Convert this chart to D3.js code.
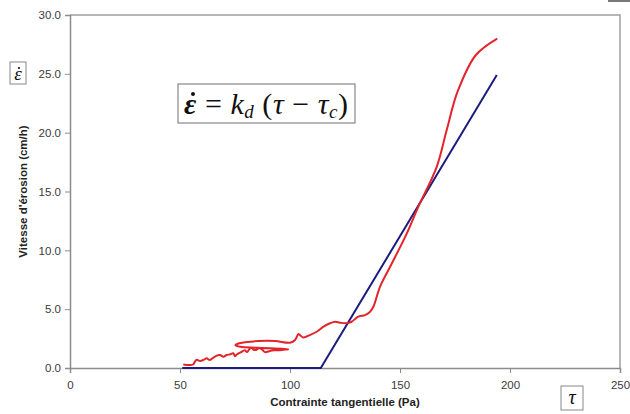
<!DOCTYPE html>
<html>
<head>
<meta charset="utf-8">
<script src="https://cdn.jsdelivr.net/npm/d3@7"></script>
<style>
  body { margin: 0; background: #fff; }
  #chart { width: 630px; height: 414px; }
  text { font-family: "Liberation Sans", Arial, sans-serif; }
</style>
</head>
<body>
<div id="chart"></div>
<script>
var redTau = [51.5, 54, 56, 56.8, 57.6, 59.1, 60.6, 62.1, 63.6, 65.2, 66.7, 68.2, 69.7, 71.2, 72.7, 74.2, 75, 75.8, 77.3,
  79.5, 80.5, 81.5, 82.6, 83.5, 84.8, 86, 87.1, 88.6, 90.9, 92.5, 94.7, 97, 99.2,
  85, 77.5, 75.2, 76.5, 79.5, 85.6, 93.2, 100, 102.3, 103.8, 104.5, 106, 109, 112.1, 115.2, 118.2, 120.5,
  122.7, 125.8, 128, 131, 134.1, 136.4, 137.9, 140.9, 145.5, 153, 158.3, 166.7, 171.2, 176.2, 184.5, 194.2]
var redRate = [0.3, 0.25, 0.3, 0.55, 0.7, 0.6, 0.68, 0.82, 0.68, 0.88, 1.05, 1.1, 0.96, 1.1, 1.16, 1.25, 1.0, 1.15, 1.3,
  1.5, 1.35, 1.6, 1.73, 1.55, 1.55, 1.7, 1.6, 1.35, 1.45, 1.5, 1.5, 1.55, 1.6,
  1.72, 1.8, 1.95, 2.08, 2.18, 2.29, 2.29, 2.15, 2.38, 2.89, 2.8, 2.6, 2.8, 3.08, 3.51, 3.8, 3.93,
  3.85, 3.8, 3.93, 4.36, 4.5, 4.78, 5.2, 6.9, 8.6, 11.4, 13.7, 17.1, 20.2, 23.5, 26.6, 28.0]

var blueTau = [51, 114, 194]
var blueRate = [0, 0, 24.9]

var xTicks = [0, 50, 100, 150, 200, 250]
var yTicks = [0, 5, 10, 15, 20, 25, 30]

var xTitle = "Contrainte tangentielle (Pa)"
var yTitle = "Vitesse d'érosion (cm/h)"

var colors = {}
colors.red = "#e3242b"
colors.blue = "#1c1c7e"
colors.axis = "#8c8c8c"

document.addEventListener("DOMContentLoaded", function() {
  bootstrap()
});

function bootstrap(){
  var chart = document.querySelector("#chart")
  var width = 630, height = 414
  var left = 70, right = 620, top = 15, bottom = 368

  var svg = d3.select(chart).append("svg")
    .attr("width", width)
    .attr("height", height)

  var x = d3.scaleLinear().domain([0, 250]).range([left, right])
  var y = d3.scaleLinear().domain([0, 30]).range([bottom, top])

  // frame top / right
  svg.append("path")
    .attr("d", "M" + left + "," + top + "H" + right + "V" + bottom)
    .attr("fill", "none")
    .attr("stroke", "#a0a0a0")
    .attr("stroke-width", 1.5)

  var xAxis = svg.append("g")
    .attr("transform", "translate(0," + bottom + ")")
    .call(d3.axisBottom(x).tickValues(xTicks).tickSize(5).tickPadding(8).tickFormat(d3.format("d")))
  var yAxis = svg.append("g")
    .attr("transform", "translate(" + left + ",0)")
    .call(d3.axisLeft(y).tickValues(yTicks).tickSize(5).tickPadding(4).tickFormat(d3.format(".1f")))

  ;[xAxis, yAxis].forEach(function(a){
    a.select(".domain").attr("stroke", colors.axis).attr("stroke-width", 1.5)
    a.selectAll(".tick line").attr("stroke", colors.axis)
    a.selectAll(".tick text")
      .attr("fill", "#3a3a3a")
      .style("font-size", "11.5px")
      .style("font-family", "'Liberation Sans', Arial, sans-serif")
  })

  var line = d3.line()
    .curve(d3.curveCatmullRom.alpha(0.5))
    .x(function(d){ return x(d[0]) })
    .y(function(d){ return y(d[1]) })

  svg.append("path")
    .datum(blueTau.map(function(t, i){ return [t, blueRate[i]] }))
    .attr("d", d3.line().x(function(d){ return x(d[0]) }).y(function(d){ return y(d[1]) }))
    .attr("fill", "none")
    .attr("stroke", colors.blue)
    .attr("stroke-width", 2)

  svg.append("path")
    .datum(redTau.map(function(t, i){ return [t, redRate[i]] }))
    .attr("d", line)
    .attr("fill", "none")
    .attr("stroke", colors.red)
    .attr("stroke-width", 2)
    .attr("stroke-linejoin", "round")

  svg.append("text")
    .attr("x", (left + right) / 2)
    .attr("y", 406)
    .attr("text-anchor", "middle")
    .style("font-size", "11.5px")
    .style("font-weight", "bold")
    .attr("fill", "#222")
    .text(xTitle)

  svg.append("text")
    .attr("transform", "translate(27," + ((top + bottom) / 2) + ") rotate(-90)")
    .attr("text-anchor", "middle")
    .style("font-size", "11.5px")
    .style("font-weight", "bold")
    .attr("fill", "#222")
    .text(yTitle)

  // formula box
  svg.append("rect")
    .attr("x", 178).attr("y", 84).attr("width", 177).attr("height", 39)
    .attr("fill", "#fff").attr("stroke", "#888").attr("stroke-width", 1.2)

  var serif = "'Liberation Serif', 'Times New Roman', serif"
  var f = svg.append("text")
    .attr("x", 184).attr("y", 114)
    .attr("textLength", 164).attr("lengthAdjust", "spacing")
    .style("font-family", serif)
    .style("font-size", "30px")
    .attr("fill", "#111")
  f.append("tspan").style("font-style", "italic").style("font-weight", "bold").text("\u03B5")
  f.append("tspan").text(" = ")
  f.append("tspan").style("font-style", "italic").text("k")
  f.append("tspan").style("font-style", "italic").style("font-size", "19px").attr("dy", 4).text("d")
  f.append("tspan").attr("dy", -4).text(" (")
  f.append("tspan").style("font-style", "italic").text("\u03C4")
  f.append("tspan").text(" \u2212 ")
  f.append("tspan").style("font-style", "italic").text("\u03C4")
  f.append("tspan").style("font-style", "italic").style("font-size", "19px").attr("dy", 4).text("c")
  f.append("tspan").attr("dy", -4).text(")")
  svg.append("circle").attr("cx", 193).attr("cy", 94).attr("r", 2).attr("fill", "#111")

  // small symbol boxes
  svg.append("rect")
    .attr("x", 10).attr("y", 62).attr("width", 16).attr("height", 22)
    .attr("fill", "#fff").attr("stroke", "#888")
  svg.append("text")
    .attr("x", 18).attr("y", 80).attr("text-anchor", "middle")
    .style("font-family", serif)
    .style("font-size", "19px").style("font-style", "italic").attr("fill", "#111")
    .text("\u03B5")
  svg.append("circle").attr("cx", 19).attr("cy", 68).attr("r", 1.1).attr("fill", "#111")

  svg.append("rect")
    .attr("x", 561).attr("y", 386).attr("width", 22).attr("height", 24)
    .attr("fill", "#fff").attr("stroke", "#888")
  svg.append("text")
    .attr("x", 572).attr("y", 404).attr("text-anchor", "middle")
    .style("font-family", serif)
    .style("font-size", "20px").style("font-style", "italic").attr("fill", "#111")
    .text("\u03C4")

  svg.append("rect")
    .attr("x", 608).attr("y", 0).attr("width", 22).attr("height", 2)
    .attr("fill", "#777")
}
</script>
</body>
</html>
